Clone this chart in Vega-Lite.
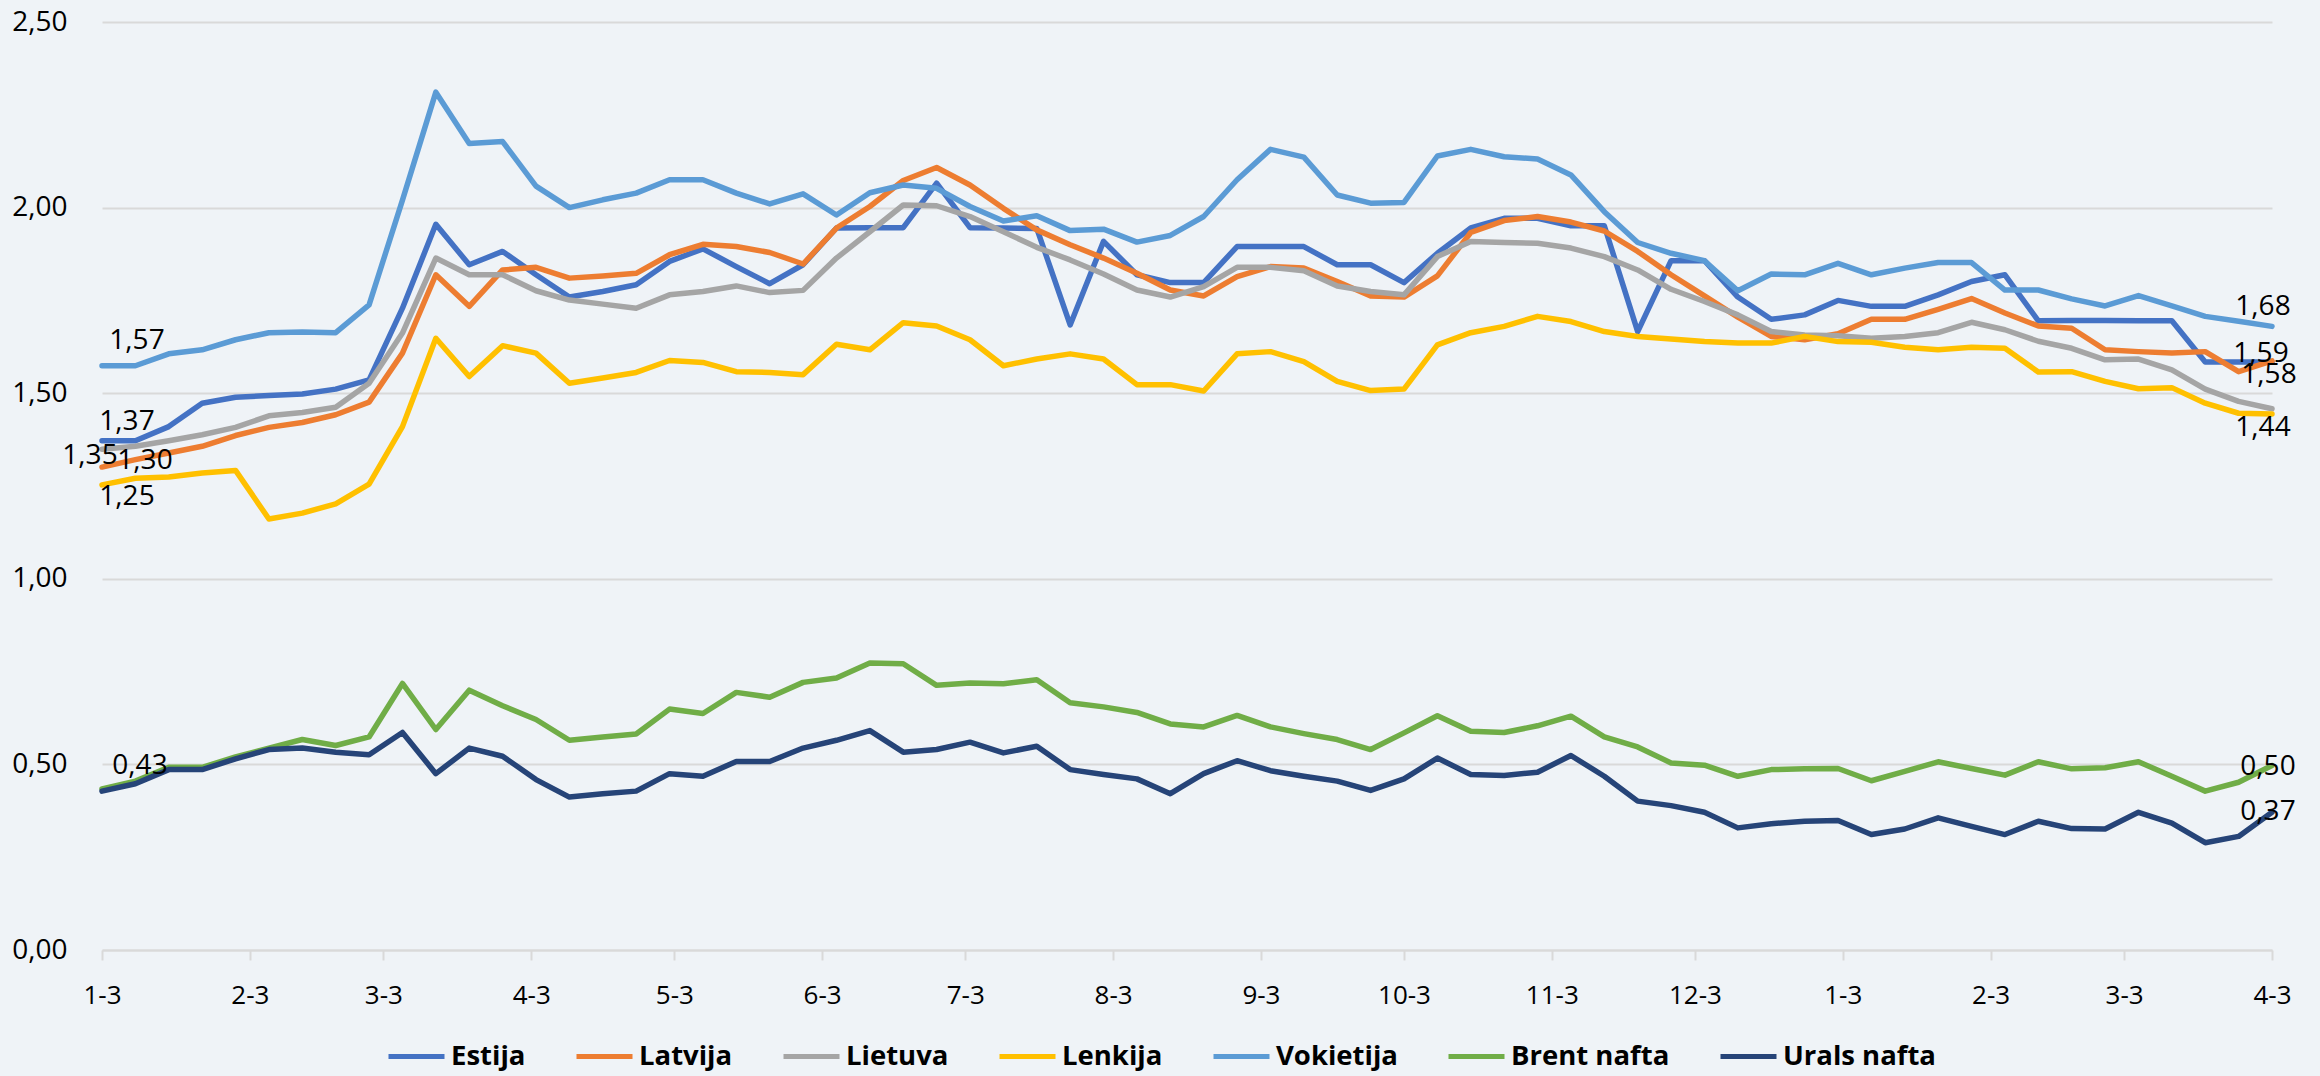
{
  "$schema": "https://vega.github.io/schema/vega-lite/v6.json",
  "width": 2170,
  "height": 928,
  "autosize": {"type": "none"},
  "padding": {"left": 102, "top": 22, "right": 48, "bottom": 126},
  "background": "#EFF3F7",
  "config": {
    "locale": {"number": {"decimal": ",", "thousands": " ", "grouping": [3], "currency": ["", " €"]}},
    "view": {"stroke": null},
    "font": "Open Sans"
  },
  "data": {
    "format": {"parse": {"date": "date"}},
    "values": [
      {"date": "2022-01-03", "Estija": 1.372, "Latvija": 1.301, "Lietuva": 1.349, "Lenkija": 1.253, "Vokietija": 1.574, "Brent nafta": 0.434, "Urals nafta": 0.428},
      {"date": "2022-01-10", "Estija": 1.372, "Latvija": 1.321, "Lietuva": 1.357, "Lenkija": 1.271, "Vokietija": 1.574, "Brent nafta": 0.455, "Urals nafta": 0.448},
      {"date": "2022-01-17", "Estija": 1.410, "Latvija": 1.339, "Lietuva": 1.372, "Lenkija": 1.274, "Vokietija": 1.606, "Brent nafta": 0.492, "Urals nafta": 0.486},
      {"date": "2022-01-24", "Estija": 1.473, "Latvija": 1.357, "Lietuva": 1.388, "Lenkija": 1.285, "Vokietija": 1.617, "Brent nafta": 0.492, "Urals nafta": 0.486},
      {"date": "2022-01-31", "Estija": 1.489, "Latvija": 1.386, "Lietuva": 1.408, "Lenkija": 1.292, "Vokietija": 1.644, "Brent nafta": 0.520, "Urals nafta": 0.515},
      {"date": "2022-02-07", "Estija": 1.494, "Latvija": 1.408, "Lietuva": 1.439, "Lenkija": 1.161, "Vokietija": 1.663, "Brent nafta": 0.544, "Urals nafta": 0.540},
      {"date": "2022-02-14", "Estija": 1.498, "Latvija": 1.421, "Lietuva": 1.448, "Lenkija": 1.177, "Vokietija": 1.665, "Brent nafta": 0.567, "Urals nafta": 0.544},
      {"date": "2022-02-21", "Estija": 1.511, "Latvija": 1.442, "Lietuva": 1.462, "Lenkija": 1.202, "Vokietija": 1.663, "Brent nafta": 0.551, "Urals nafta": 0.533},
      {"date": "2022-02-28", "Estija": 1.536, "Latvija": 1.476, "Lietuva": 1.527, "Lenkija": 1.255, "Vokietija": 1.738, "Brent nafta": 0.574, "Urals nafta": 0.526},
      {"date": "2022-03-07", "Estija": 1.729, "Latvija": 1.608, "Lietuva": 1.662, "Lenkija": 1.410, "Vokietija": 2.020, "Brent nafta": 0.718, "Urals nafta": 0.586},
      {"date": "2022-03-14", "Estija": 1.955, "Latvija": 1.819, "Lietuva": 1.864, "Lenkija": 1.648, "Vokietija": 2.311, "Brent nafta": 0.594, "Urals nafta": 0.475},
      {"date": "2022-03-21", "Estija": 1.846, "Latvija": 1.734, "Lietuva": 1.819, "Lenkija": 1.545, "Vokietija": 2.173, "Brent nafta": 0.700, "Urals nafta": 0.544},
      {"date": "2022-03-28", "Estija": 1.882, "Latvija": 1.832, "Lietuva": 1.819, "Lenkija": 1.628, "Vokietija": 2.178, "Brent nafta": 0.658, "Urals nafta": 0.522},
      {"date": "2022-04-04", "Estija": 1.819, "Latvija": 1.839, "Lietuva": 1.776, "Lenkija": 1.608, "Vokietija": 2.058, "Brent nafta": 0.621, "Urals nafta": 0.459},
      {"date": "2022-04-11", "Estija": 1.759, "Latvija": 1.810, "Lietuva": 1.751, "Lenkija": 1.527, "Vokietija": 2.000, "Brent nafta": 0.565, "Urals nafta": 0.412},
      {"date": "2022-04-18", "Estija": 1.774, "Latvija": 1.816, "Lietuva": 1.740, "Lenkija": 1.541, "Vokietija": 2.021, "Brent nafta": 0.574, "Urals nafta": 0.421},
      {"date": "2022-04-25", "Estija": 1.792, "Latvija": 1.823, "Lietuva": 1.729, "Lenkija": 1.556, "Vokietija": 2.039, "Brent nafta": 0.582, "Urals nafta": 0.428},
      {"date": "2022-05-02", "Estija": 1.855, "Latvija": 1.873, "Lietuva": 1.765, "Lenkija": 1.588, "Vokietija": 2.075, "Brent nafta": 0.649, "Urals nafta": 0.475},
      {"date": "2022-05-09", "Estija": 1.889, "Latvija": 1.901, "Lietuva": 1.774, "Lenkija": 1.583, "Vokietija": 2.075, "Brent nafta": 0.637, "Urals nafta": 0.468},
      {"date": "2022-05-16", "Estija": 1.841, "Latvija": 1.895, "Lietuva": 1.789, "Lenkija": 1.558, "Vokietija": 2.039, "Brent nafta": 0.694, "Urals nafta": 0.508},
      {"date": "2022-05-23", "Estija": 1.795, "Latvija": 1.879, "Lietuva": 1.771, "Lenkija": 1.556, "Vokietija": 2.010, "Brent nafta": 0.681, "Urals nafta": 0.508},
      {"date": "2022-05-30", "Estija": 1.846, "Latvija": 1.848, "Lietuva": 1.777, "Lenkija": 1.550, "Vokietija": 2.037, "Brent nafta": 0.721, "Urals nafta": 0.544},
      {"date": "2022-06-06", "Estija": 1.945, "Latvija": 1.945, "Lietuva": 1.864, "Lenkija": 1.632, "Vokietija": 1.980, "Brent nafta": 0.733, "Urals nafta": 0.565},
      {"date": "2022-06-13", "Estija": 1.946, "Latvija": 2.003, "Lietuva": 1.935, "Lenkija": 1.617, "Vokietija": 2.040, "Brent nafta": 0.773, "Urals nafta": 0.591},
      {"date": "2022-06-20", "Estija": 1.946, "Latvija": 2.073, "Lietuva": 2.007, "Lenkija": 1.690, "Vokietija": 2.061, "Brent nafta": 0.771, "Urals nafta": 0.533},
      {"date": "2022-06-27", "Estija": 2.066, "Latvija": 2.108, "Lietuva": 2.005, "Lenkija": 1.681, "Vokietija": 2.052, "Brent nafta": 0.713, "Urals nafta": 0.540},
      {"date": "2022-07-04", "Estija": 1.946, "Latvija": 2.061, "Lietuva": 1.976, "Lenkija": 1.644, "Vokietija": 2.003, "Brent nafta": 0.719, "Urals nafta": 0.560},
      {"date": "2022-07-11", "Estija": 1.945, "Latvija": 1.998, "Lietuva": 1.935, "Lenkija": 1.574, "Vokietija": 1.964, "Brent nafta": 0.717, "Urals nafta": 0.531},
      {"date": "2022-07-18", "Estija": 1.944, "Latvija": 1.940, "Lietuva": 1.893, "Lenkija": 1.592, "Vokietija": 1.978, "Brent nafta": 0.728, "Urals nafta": 0.549},
      {"date": "2022-07-25", "Estija": 1.684, "Latvija": 1.900, "Lietuva": 1.859, "Lenkija": 1.606, "Vokietija": 1.938, "Brent nafta": 0.666, "Urals nafta": 0.486},
      {"date": "2022-08-01", "Estija": 1.909, "Latvija": 1.864, "Lietuva": 1.821, "Lenkija": 1.592, "Vokietija": 1.942, "Brent nafta": 0.655, "Urals nafta": 0.473},
      {"date": "2022-08-08", "Estija": 1.819, "Latvija": 1.823, "Lietuva": 1.778, "Lenkija": 1.523, "Vokietija": 1.907, "Brent nafta": 0.640, "Urals nafta": 0.461},
      {"date": "2022-08-15", "Estija": 1.798, "Latvija": 1.778, "Lietuva": 1.759, "Lenkija": 1.523, "Vokietija": 1.925, "Brent nafta": 0.609, "Urals nafta": 0.421},
      {"date": "2022-08-22", "Estija": 1.798, "Latvija": 1.762, "Lietuva": 1.787, "Lenkija": 1.506, "Vokietija": 1.976, "Brent nafta": 0.601, "Urals nafta": 0.475},
      {"date": "2022-08-29", "Estija": 1.895, "Latvija": 1.814, "Lietuva": 1.839, "Lenkija": 1.606, "Vokietija": 2.075, "Brent nafta": 0.632, "Urals nafta": 0.510},
      {"date": "2022-09-05", "Estija": 1.895, "Latvija": 1.841, "Lietuva": 1.839, "Lenkija": 1.612, "Vokietija": 2.157, "Brent nafta": 0.601, "Urals nafta": 0.483},
      {"date": "2022-09-12", "Estija": 1.895, "Latvija": 1.837, "Lietuva": 1.830, "Lenkija": 1.585, "Vokietija": 2.136, "Brent nafta": 0.583, "Urals nafta": 0.468},
      {"date": "2022-09-19", "Estija": 1.846, "Latvija": 1.801, "Lietuva": 1.789, "Lenkija": 1.532, "Vokietija": 2.034, "Brent nafta": 0.567, "Urals nafta": 0.455},
      {"date": "2022-09-26", "Estija": 1.846, "Latvija": 1.762, "Lietuva": 1.774, "Lenkija": 1.507, "Vokietija": 2.012, "Brent nafta": 0.540, "Urals nafta": 0.430},
      {"date": "2022-10-03", "Estija": 1.798, "Latvija": 1.759, "Lietuva": 1.765, "Lenkija": 1.511, "Vokietija": 2.014, "Brent nafta": 0.585, "Urals nafta": 0.461},
      {"date": "2022-10-10", "Estija": 1.877, "Latvija": 1.816, "Lietuva": 1.868, "Lenkija": 1.630, "Vokietija": 2.139, "Brent nafta": 0.631, "Urals nafta": 0.517},
      {"date": "2022-10-17", "Estija": 1.945, "Latvija": 1.933, "Lietuva": 1.909, "Lenkija": 1.663, "Vokietija": 2.157, "Brent nafta": 0.589, "Urals nafta": 0.473},
      {"date": "2022-10-24", "Estija": 1.971, "Latvija": 1.965, "Lietuva": 1.906, "Lenkija": 1.680, "Vokietija": 2.137, "Brent nafta": 0.586, "Urals nafta": 0.470},
      {"date": "2022-10-31", "Estija": 1.971, "Latvija": 1.976, "Lietuva": 1.904, "Lenkija": 1.707, "Vokietija": 2.131, "Brent nafta": 0.604, "Urals nafta": 0.479},
      {"date": "2022-11-07", "Estija": 1.951, "Latvija": 1.961, "Lietuva": 1.891, "Lenkija": 1.693, "Vokietija": 2.088, "Brent nafta": 0.630, "Urals nafta": 0.524},
      {"date": "2022-11-14", "Estija": 1.951, "Latvija": 1.937, "Lietuva": 1.868, "Lenkija": 1.666, "Vokietija": 1.989, "Brent nafta": 0.574, "Urals nafta": 0.468},
      {"date": "2022-11-21", "Estija": 1.666, "Latvija": 1.882, "Lietuva": 1.832, "Lenkija": 1.653, "Vokietija": 1.906, "Brent nafta": 0.547, "Urals nafta": 0.401},
      {"date": "2022-11-28", "Estija": 1.857, "Latvija": 1.819, "Lietuva": 1.780, "Lenkija": 1.646, "Vokietija": 1.877, "Brent nafta": 0.504, "Urals nafta": 0.389},
      {"date": "2022-12-05", "Estija": 1.857, "Latvija": 1.762, "Lietuva": 1.747, "Lenkija": 1.639, "Vokietija": 1.857, "Brent nafta": 0.498, "Urals nafta": 0.371},
      {"date": "2022-12-12", "Estija": 1.759, "Latvija": 1.705, "Lietuva": 1.711, "Lenkija": 1.635, "Vokietija": 1.776, "Brent nafta": 0.468, "Urals nafta": 0.329},
      {"date": "2022-12-19", "Estija": 1.699, "Latvija": 1.653, "Lietuva": 1.666, "Lenkija": 1.635, "Vokietija": 1.821, "Brent nafta": 0.486, "Urals nafta": 0.340},
      {"date": "2022-12-26", "Estija": 1.711, "Latvija": 1.644, "Lietuva": 1.657, "Lenkija": 1.653, "Vokietija": 1.819, "Brent nafta": 0.488, "Urals nafta": 0.347},
      {"date": "2023-01-02", "Estija": 1.750, "Latvija": 1.660, "Lietuva": 1.655, "Lenkija": 1.639, "Vokietija": 1.850, "Brent nafta": 0.489, "Urals nafta": 0.349},
      {"date": "2023-01-09", "Estija": 1.734, "Latvija": 1.699, "Lietuva": 1.648, "Lenkija": 1.637, "Vokietija": 1.819, "Brent nafta": 0.456, "Urals nafta": 0.311},
      {"date": "2023-01-16", "Estija": 1.734, "Latvija": 1.699, "Lietuva": 1.653, "Lenkija": 1.624, "Vokietija": 1.837, "Brent nafta": 0.481, "Urals nafta": 0.326},
      {"date": "2023-01-23", "Estija": 1.765, "Latvija": 1.726, "Lietuva": 1.663, "Lenkija": 1.617, "Vokietija": 1.852, "Brent nafta": 0.507, "Urals nafta": 0.356},
      {"date": "2023-01-30", "Estija": 1.801, "Latvija": 1.755, "Lietuva": 1.691, "Lenkija": 1.624, "Vokietija": 1.852, "Brent nafta": 0.489, "Urals nafta": 0.333},
      {"date": "2023-02-06", "Estija": 1.819, "Latvija": 1.716, "Lietuva": 1.671, "Lenkija": 1.621, "Vokietija": 1.778, "Brent nafta": 0.471, "Urals nafta": 0.311},
      {"date": "2023-02-13", "Estija": 1.695, "Latvija": 1.681, "Lietuva": 1.640, "Lenkija": 1.557, "Vokietija": 1.778, "Brent nafta": 0.507, "Urals nafta": 0.347},
      {"date": "2023-02-20", "Estija": 1.696, "Latvija": 1.675, "Lietuva": 1.621, "Lenkija": 1.558, "Vokietija": 1.754, "Brent nafta": 0.488, "Urals nafta": 0.327},
      {"date": "2023-02-27", "Estija": 1.696, "Latvija": 1.617, "Lietuva": 1.590, "Lenkija": 1.532, "Vokietija": 1.735, "Brent nafta": 0.491, "Urals nafta": 0.326},
      {"date": "2023-03-06", "Estija": 1.695, "Latvija": 1.612, "Lietuva": 1.592, "Lenkija": 1.512, "Vokietija": 1.763, "Brent nafta": 0.507, "Urals nafta": 0.371},
      {"date": "2023-03-13", "Estija": 1.695, "Latvija": 1.608, "Lietuva": 1.563, "Lenkija": 1.515, "Vokietija": 1.735, "Brent nafta": 0.468, "Urals nafta": 0.342},
      {"date": "2023-03-20", "Estija": 1.584, "Latvija": 1.612, "Lietuva": 1.511, "Lenkija": 1.473, "Vokietija": 1.707, "Brent nafta": 0.428, "Urals nafta": 0.289},
      {"date": "2023-03-27", "Estija": 1.584, "Latvija": 1.558, "Lietuva": 1.478, "Lenkija": 1.446, "Vokietija": 1.694, "Brent nafta": 0.452, "Urals nafta": 0.306},
      {"date": "2023-04-03", "Estija": 1.584, "Latvija": 1.587, "Lietuva": 1.458, "Lenkija": 1.444, "Vokietija": 1.680, "Brent nafta": 0.497, "Urals nafta": 0.371}
    ]
  },
  "transform": [
    {"fold": ["Estija", "Latvija", "Lietuva", "Lenkija", "Vokietija", "Brent nafta", "Urals nafta"], "as": ["series", "value"]}
  ],
  "encoding": {
    "x": {
      "field": "date",
      "type": "temporal",
      "scale": {
        "type": "utc",
        "nice": false,
        "domain": [{"year": 2022, "month": 1, "date": 3, "utc": true}, {"year": 2023, "month": 4, "date": 3, "utc": true}]
      },
      "axis": {
        "title": null,
        "grid": false,
        "values": [
          {"year": 2022, "month": 1, "date": 3, "utc": true},
          {"year": 2022, "month": 2, "date": 3, "utc": true},
          {"year": 2022, "month": 3, "date": 3, "utc": true},
          {"year": 2022, "month": 4, "date": 3, "utc": true},
          {"year": 2022, "month": 5, "date": 3, "utc": true},
          {"year": 2022, "month": 6, "date": 3, "utc": true},
          {"year": 2022, "month": 7, "date": 3, "utc": true},
          {"year": 2022, "month": 8, "date": 3, "utc": true},
          {"year": 2022, "month": 9, "date": 3, "utc": true},
          {"year": 2022, "month": 10, "date": 3, "utc": true},
          {"year": 2022, "month": 11, "date": 3, "utc": true},
          {"year": 2022, "month": 12, "date": 3, "utc": true},
          {"year": 2023, "month": 1, "date": 3, "utc": true},
          {"year": 2023, "month": 2, "date": 3, "utc": true},
          {"year": 2023, "month": 3, "date": 3, "utc": true},
          {"year": 2023, "month": 4, "date": 3, "utc": true}
        ],
        "labelExpr": "utcFormat(datum.value, '%-m-%-d')",
        "labelFont": "Open Sans",
        "labelFontSize": 26,
        "labelColor": "#000000",
        "labelPadding": 22,
        "labelOverlap": false,
        "labelFlush": false,
        "labelBound": false,
        "tickSize": 10,
        "tickWidth": 2,
        "tickColor": "#D9D9D9",
        "domainColor": "#D9D9D9",
        "domainWidth": 2
      }
    },
    "y": {
      "field": "value",
      "type": "quantitative",
      "scale": {"domain": [0, 2.5], "nice": false, "zero": true},
      "axis": {
        "title": null,
        "values": [0, 0.5, 1, 1.5, 2, 2.5],
        "format": ".2f",
        "grid": true,
        "gridColor": "#D9D9D9",
        "gridWidth": 2,
        "domain": false,
        "ticks": false,
        "labelPadding": 35,
        "labelFont": "Open Sans",
        "labelFontSize": 28,
        "labelColor": "#000000"
      }
    }
  },
  "layer": [
    {
      "mark": {"type": "line", "strokeWidth": 5.5, "strokeCap": "round", "strokeJoin": "round"},
      "encoding": {
        "color": {
          "field": "series",
          "type": "nominal",
          "scale": {
            "domain": ["Estija", "Latvija", "Lietuva", "Lenkija", "Vokietija", "Brent nafta", "Urals nafta"],
            "range": ["#4472C4", "#ED7D31", "#A5A5A5", "#FFC000", "#5B9BD5", "#70AD47", "#264478"]
          },
          "legend": {
            "title": null,
            "orient": "none",
            "legendX": 284,
            "legendY": 1004,
            "direction": "horizontal",
            "symbolType": "stroke",
            "symbolSize": 3136,
            "symbolStrokeWidth": 5,
            "labelFont": "Open Sans",
            "labelFontSize": 27.5,
            "labelFontWeight": "bold",
            "labelColor": "#000000",
            "labelLimit": 400,
            "labelOffset": 4,
            "columnPadding": 40
          }
        }
      }
    },
    {
      "transform": [{"filter": "datum.series == 'Vokietija' && utcyear(datum.date) == 2022 && utcmonth(datum.date) == 0 && utcdate(datum.date) == 3"}],
      "mark": {"type": "text", "dx": 35, "dy": -25, "fontSize": 28, "color": "#000000", "font": "Open Sans"},
      "encoding": {"text": {"field": "value", "type": "quantitative", "format": ".2f"}}
    },
    {
      "transform": [{"filter": "datum.series == 'Estija' && utcyear(datum.date) == 2022 && utcmonth(datum.date) == 0 && utcdate(datum.date) == 3"}],
      "mark": {"type": "text", "dx": 25, "dy": -19, "fontSize": 28, "color": "#000000", "font": "Open Sans"},
      "encoding": {"text": {"field": "value", "type": "quantitative", "format": ".2f"}}
    },
    {
      "transform": [{"filter": "datum.series == 'Lietuva' && utcyear(datum.date) == 2022 && utcmonth(datum.date) == 0 && utcdate(datum.date) == 3"}],
      "mark": {"type": "text", "dx": -12, "dy": 7, "fontSize": 28, "color": "#000000", "font": "Open Sans"},
      "encoding": {"text": {"field": "value", "type": "quantitative", "format": ".2f"}}
    },
    {
      "transform": [{"filter": "datum.series == 'Latvija' && utcyear(datum.date) == 2022 && utcmonth(datum.date) == 0 && utcdate(datum.date) == 3"}],
      "mark": {"type": "text", "dx": 43, "dy": -6, "fontSize": 28, "color": "#000000", "font": "Open Sans"},
      "encoding": {"text": {"field": "value", "type": "quantitative", "format": ".2f"}}
    },
    {
      "transform": [{"filter": "datum.series == 'Lenkija' && utcyear(datum.date) == 2022 && utcmonth(datum.date) == 0 && utcdate(datum.date) == 3"}],
      "mark": {"type": "text", "dx": 25, "dy": 12, "fontSize": 28, "color": "#000000", "font": "Open Sans"},
      "encoding": {"text": {"field": "value", "type": "quantitative", "format": ".2f"}}
    },
    {
      "transform": [{"filter": "datum.series == 'Urals nafta' && utcyear(datum.date) == 2022 && utcmonth(datum.date) == 0 && utcdate(datum.date) == 3"}],
      "mark": {"type": "text", "dx": 38, "dy": -25, "fontSize": 28, "color": "#000000", "font": "Open Sans"},
      "encoding": {"text": {"field": "value", "type": "quantitative", "format": ".2f"}}
    },
    {
      "transform": [{"filter": "datum.series == 'Vokietija' && utcyear(datum.date) == 2023 && utcmonth(datum.date) == 3"}],
      "mark": {"type": "text", "dx": -9, "dy": -19, "fontSize": 28, "color": "#000000", "font": "Open Sans"},
      "encoding": {"text": {"field": "value", "type": "quantitative", "format": ".2f"}}
    },
    {
      "transform": [{"filter": "datum.series == 'Latvija' && utcyear(datum.date) == 2023 && utcmonth(datum.date) == 3"}],
      "mark": {"type": "text", "dx": -11, "dy": -7, "fontSize": 28, "color": "#000000", "font": "Open Sans"},
      "encoding": {"text": {"field": "value", "type": "quantitative", "format": ".2f"}}
    },
    {
      "transform": [{"filter": "datum.series == 'Estija' && utcyear(datum.date) == 2023 && utcmonth(datum.date) == 3"}],
      "mark": {"type": "text", "dx": -3, "dy": 13, "fontSize": 28, "color": "#000000", "font": "Open Sans"},
      "encoding": {"text": {"field": "value", "type": "quantitative", "format": ".2f"}}
    },
    {
      "transform": [{"filter": "datum.series == 'Lenkija' && utcyear(datum.date) == 2023 && utcmonth(datum.date) == 3"}],
      "mark": {"type": "text", "dx": -9, "dy": 14, "fontSize": 28, "color": "#000000", "font": "Open Sans"},
      "encoding": {"text": {"field": "value", "type": "quantitative", "format": ".2f"}}
    },
    {
      "transform": [{"filter": "datum.series == 'Brent nafta' && utcyear(datum.date) == 2023 && utcmonth(datum.date) == 3"}],
      "mark": {"type": "text", "dx": -4, "dy": 1, "fontSize": 28, "color": "#000000", "font": "Open Sans"},
      "encoding": {"text": {"field": "value", "type": "quantitative", "format": ".2f"}}
    },
    {
      "transform": [{"filter": "datum.series == 'Urals nafta' && utcyear(datum.date) == 2023 && utcmonth(datum.date) == 3"}],
      "mark": {"type": "text", "dx": -4, "dy": 0, "fontSize": 28, "color": "#000000", "font": "Open Sans"},
      "encoding": {"text": {"field": "value", "type": "quantitative", "format": ".2f"}}
    }
  ]
}
